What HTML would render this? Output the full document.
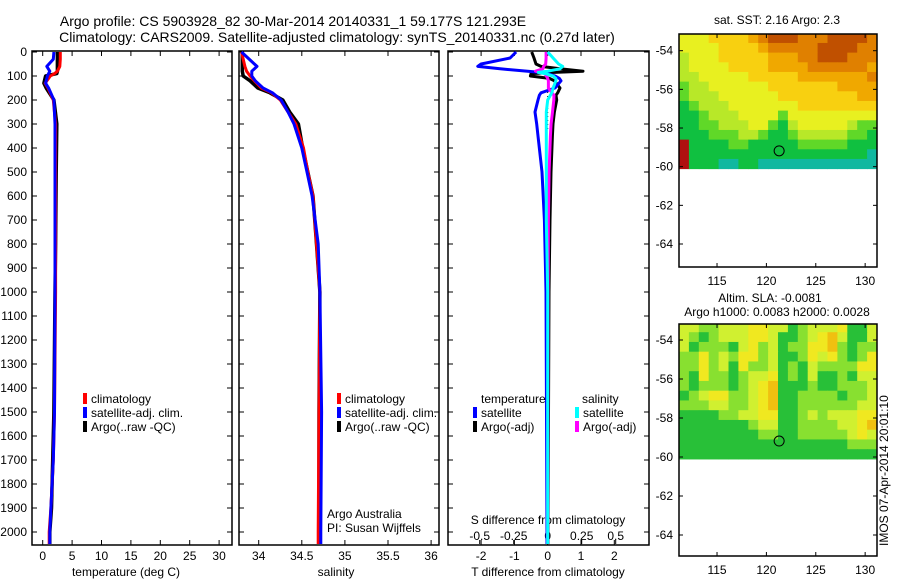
<!DOCTYPE html>
<html><head><meta charset="utf-8"><style>
body{margin:0;background:#fff}
svg{display:block;font-family:"Liberation Sans",sans-serif;font-size:12px}
</style></head><body>
<svg id="c" width="900" height="580" xmlns="http://www.w3.org/2000/svg">
<text x="293" y="26" text-anchor="middle" font-size="14">Argo profile: CS 5903928_82 30-Mar-2014 20140331_1 59.177S 121.293E</text>
<text x="337" y="42" text-anchor="middle" font-size="14">Climatology: CARS2009. Satellite-adjusted climatology: synTS_20140331.nc (0.27d later)</text>
<text x="777" y="24" text-anchor="middle">sat. SST: 2.16 Argo: 2.3</text>
<text x="770" y="302" text-anchor="middle">Altim. SLA: -0.0081</text>
<text x="777" y="316" text-anchor="middle">Argo h1000: 0.0083 h2000: 0.0028</text>
<text transform="translate(888,546) rotate(-90)">IMOS 07-Apr-2014 20:01:10</text>
</svg>
<script>
// ---- data ----
const depthT=[0,30,60,80,90,100,130,150,200,300,500,800,1000,1500,1700,1900,2000,2050];
const tempClim=[3.0,3.0,2.9,2.5,2.0,1.3,0.4,0.9,1.8,2.2,2.2,2.2,2.2,2.0,1.8,1.4,1.1,1.1];
const tempSat=[1.9,1.8,0.7,1.2,1.0,0.8,0.5,1.0,1.9,2.1,2.1,2.1,2.1,2.0,1.8,1.4,1.2,1.2];
const tempArgo=[2.5,2.5,2.5,2.5,2.4,0.5,0.2,0.6,1.9,2.4,2.3,2.2,2.1,1.9,1.7,1.5,1.2,1.2];
const depthS=[0,60,80,100,120,150,170,200,250,300,400,500,600,800,1000,1500,2000,2050];
const salClim=[33.80,33.84,33.86,33.90,33.95,34.03,34.15,34.25,34.34,34.43,34.52,34.57,34.63,34.67,34.71,34.70,34.69,34.69];
const salSat=[33.80,33.98,33.92,33.92,33.96,34.05,34.16,34.26,34.34,34.41,34.50,34.56,34.62,34.69,34.71,34.73,34.72,34.72];
const salArgo=[33.81,33.81,33.81,33.82,33.90,33.99,34.13,34.28,34.36,34.46,34.51,34.57,34.63,34.67,34.71,34.70,34.70,34.70];
const depthD=[0,25,50,60,70,80,85,90,100,110,120,150,170,180,200,250,300,350,500,700,1000,2000,2050];
const dTsat=[-0.95,-1.13,-2.0,-2.1,-1.43,-0.6,-0.23,0.0,0.22,0.35,0.4,0.22,-0.2,-0.25,-0.29,-0.38,-0.33,-0.29,-0.17,-0.1,-0.05,-0.02,-0.02];
const dTargo=[-0.48,-0.41,-0.35,-0.2,0.37,1.06,0.2,-0.5,-0.52,0.05,0.2,0.37,0.3,0.25,0.27,0.2,0.16,0.14,0.1,0.07,0.04,0.01,0.01];
const dSsat=[0.0,0.04,0.08,0.11,0.09,0.0,-0.07,-0.02,0.04,0.06,0.06,0.04,0.03,0.02,0.0,-0.01,-0.01,-0.01,-0.01,-0.01,0.0,0.0,0.0];
const dSargo=[-0.012,-0.012,-0.015,-0.03,-0.035,-0.09,-0.05,-0.02,-0.01,0.0,0.005,0.005,0.03,0.046,0.045,0.035,0.025,0.02,0.01,0.005,0.002,0.0,0.0];
const depthTicks=[0,100,200,300,400,500,600,700,800,900,1000,1100,1200,1300,1400,1500,1600,1700,1800,1900,2000];
const tempTicks=[0,5,10,15,20,25,30];
const salTicks=[34,34.5,35,35.5,36];
const salTickLabels=["34","34.5","35","35.5","36"];
const dTTicks=[-2,-1,0,1,2];
const dSTicks=[-0.5,-0.25,0,0.25,0.5];
const dSTickLabels=["-0.5","-0.25","0","0.25","0.5"];
const latTicks=[-54,-56,-58,-60,-62,-64];
const lonTicks=[115,120,125,130];
const argoLon=121.29, argoLat=-59.18;
const sstGrid=[
"44455556788877788887","44445555677777888877","34445555566677888777","34444555566667777776",
"33444445555566666667","23344444455555556666","23334444445555555566","12333444444455555555",
"11233344442444444444","11223334421344444322","11122233211233333221","91111221111122222111",
"91111111111111111110","91110011000000000000"];
const slaGrid=[
"33223334433123334113","32123334431123453113","31222134231224452122","22423244231124342124",
"22423142231213222244","21422123341213112133","21222123451112112223","12344223451122221223",
"22233223451122222233","11112233441123233344","11111112331122223345","11111111221122222343",
"11111111111111111222","11111111111111111111"];
const sstColors=["#10b8a0","#10c040","#60d828","#b8e828","#e8f020","#f8d010","#f0a800","#e08000","#c05000","#b01010"];
const slaColors=["#10b090","#28c038","#88e030","#d0f030","#f0e820","#f0c010","#f0a800"];

const svg=document.getElementById('c');
const NS="http://www.w3.org/2000/svg";
function el(tag,attrs,parent){const e=document.createElementNS(NS,tag);for(const k in attrs)e.setAttribute(k,attrs[k]);(parent||svg).appendChild(e);return e;}

const PT=51,PB=545;
const yD=d=>52+d*0.24;
const xT=v=>42.7+v*5.88;
const xS=v=>258.7+(v-34)*86.2;
const xDT=v=>547.7+v*33.3;
const xDS=v=>547.7+v*136;

function panel(x0,x1,name){
  const r=el('rect',{x:x0,y:PT,width:x1-x0,height:PB-PT,fill:'none',stroke:'#000','stroke-width':1.5});
  
  
  depthTicks.forEach(d=>{
    const y=yD(d);
    el('line',{x1:x0,x2:x0+5,y1:y,y2:y,stroke:'#000'});
    el('line',{x1:x1-5,x2:x1,y1:y,y2:y,stroke:'#000'});
  });
}
function line(xs,ys,xf,color,name,w){
  const p=xs.map((v,i)=>xf(v).toFixed(1)+','+yD(ys[i]).toFixed(1)).join(' ');
  const l=el('polyline',{points:p,fill:'none',stroke:color,'stroke-width':w||3,'stroke-linejoin':'round'});
  
  
}
function txt(x,y,s,anchor,name){
  const t=el('text',{x:x,y:y,'text-anchor':anchor||'start'});t.textContent=s;
  
  
  return t;
}
function key(x,y,color,label,name){
  el('rect',{x:x,y:y-10,width:4,height:11,fill:color});
  txt(x+8,y,label,'start',name);
}

panel(32,232,'temperature-panel');
depthTicks.forEach(d=>txt(27,yD(d)+4,String(d),'end','depth-tick-label'));
tempTicks.forEach(v=>{el('line',{x1:xT(v),x2:xT(v),y1:PB,y2:PB-5,stroke:'#000'});el('line',{x1:xT(v),x2:xT(v),y1:PT,y2:PT+5,stroke:'#000'});txt(xT(v),560,String(v),'middle','temperature-tick-label');});
txt(126,576,'temperature (deg C)','middle','temperature-axis-title');
line(tempArgo,depthT,xT,'#000','temp-argo-line',3.5);
line(tempClim,depthT,xT,'#f00','temp-climatology-line');
line(tempSat,depthT,xT,'#00f','temp-satellite-line');
key(83,403,'#f00','climatology','legend-climatology');
key(83,417,'#00f','satellite-adj. clim.','legend-satellite');
key(83,431,'#000','Argo(..raw -QC)','legend-argo');

panel(239,439,'salinity-panel');
salTicks.forEach((v,i)=>{el('line',{x1:xS(v),x2:xS(v),y1:PB,y2:PB-5,stroke:'#000'});el('line',{x1:xS(v),x2:xS(v),y1:PT,y2:PT+5,stroke:'#000'});txt(xS(v),560,salTickLabels[i],'middle','salinity-tick-label');});
txt(336,576,'salinity','middle','salinity-axis-title');
line(salArgo,depthS,xS,'#000','sal-argo-line',3.5);
line(salClim,depthS,xS,'#f00','sal-climatology-line');
line(salSat,depthS,xS,'#00f','sal-satellite-line');
key(337,403,'#f00','climatology','legend-climatology-2');
key(337,417,'#00f','satellite-adj. clim.','legend-satellite-2');
key(337,431,'#000','Argo(..raw -QC)','legend-argo-2');
txt(327,518,'Argo Australia','start','argo-australia-label');
txt(327,532,'PI: Susan Wijffels','start','pi-label');

panel(448,649,'difference-panel');
dTTicks.forEach(v=>{el('line',{x1:xDT(v),x2:xDT(v),y1:PB,y2:PB-5,stroke:'#000'});el('line',{x1:xDT(v),x2:xDT(v),y1:PT,y2:PT+5,stroke:'#000'});txt(xDT(v),560,String(v),'middle','dt-tick-label');});
dSTicks.forEach((v,i)=>{el('line',{x1:xDS(v),x2:xDS(v),y1:540,y2:544,stroke:'#000'});txt(xDS(v),540,dSTickLabels[i],'middle','ds-tick-label');});
txt(548,524,'S difference from climatology','middle','s-diff-axis-title');
txt(548,576,'T difference from climatology','middle','t-diff-axis-title');
el('line',{x1:xDT(0),x2:xDT(0),y1:yD(100),y2:yD(330),stroke:'#000','stroke-dasharray':'1,3'});
line(dTargo,depthD,xDT,'#000','dt-argo-line');
line(dTsat,depthD,xDT,'#00f','dt-satellite-line');
line(dSargo,depthD,xDS,'#f0f','ds-argo-line');
line(dSsat,depthD,xDS,'#0ff','ds-satellite-line');
txt(481,403,'temperature','start','legend-temperature-header');
key(473,417,'#00f','satellite','legend-t-satellite');
key(473,431,'#000','Argo(-adj)','legend-t-argo');
txt(582,403,'salinity','start','legend-salinity-header');
key(575,417,'#0ff','satellite','legend-s-satellite');
key(575,431,'#f0f','Argo(-adj)','legend-s-argo');

const MX0=679,MX1=877,LON0=111.15,LON1=131.2;
const lonX=v=>MX0+(v-LON0)*(MX1-MX0)/(LON1-LON0);
function map(top,bottom,latY,grid,colors,name){
  const nr=grid.length,nc=grid[0].length;
  const g=el('g',{});
  
  
  const latTop=-53.1,latBot=-60.1;
  for(let r=0;r<nr;r++)for(let c=0;c<nc;c++){
    const la0=latTop+(latBot-latTop)*r/nr, la1=latTop+(latBot-latTop)*(r+1)/nr;
    const lo0=LON0+(LON1-LON0)*c/nc, lo1=LON0+(LON1-LON0)*(c+1)/nc;
    const y0=Math.max(top,latY(la0));
    el('rect',{x:lonX(lo0),y:y0,width:lonX(lo1)-lonX(lo0)+0.5,height:latY(la1)-y0+0.5,fill:colors[+grid[r][c]]||colors[colors.length-1]},g);
  }
  const b=el('rect',{x:MX0,y:top,width:MX1-MX0,height:bottom-top,fill:'none',stroke:'#000','stroke-width':1.5});
  
  
  latTicks.forEach(v=>{const y=latY(v);el('line',{x1:MX0,x2:MX0+4,y1:y,y2:y,stroke:'#000'});el('line',{x1:MX1-4,x2:MX1,y1:y,y2:y,stroke:'#000'});txt(673,y+4,String(v),'end',name+'-lat-label');});
  lonTicks.forEach(v=>{const x=lonX(v);el('line',{x1:x,x2:x,y1:bottom,y2:bottom-4,stroke:'#000'});el('line',{x1:x,x2:x,y1:top,y2:top+4,stroke:'#000'});txt(x,bottom+18,String(v),'middle',name+'-lon-label');});
  const m=el('circle',{cx:lonX(argoLon),cy:latY(argoLat),r:5,fill:'none',stroke:'#000','stroke-width':1});
  
  
}
map(34,267,v=>50.7+(-54-v)*19.33,sstGrid,sstColors,'sst-map');
map(324,556,v=>340+(-54-v)*19.5,slaGrid,slaColors,'sla-map');
</script>
</body></html>
